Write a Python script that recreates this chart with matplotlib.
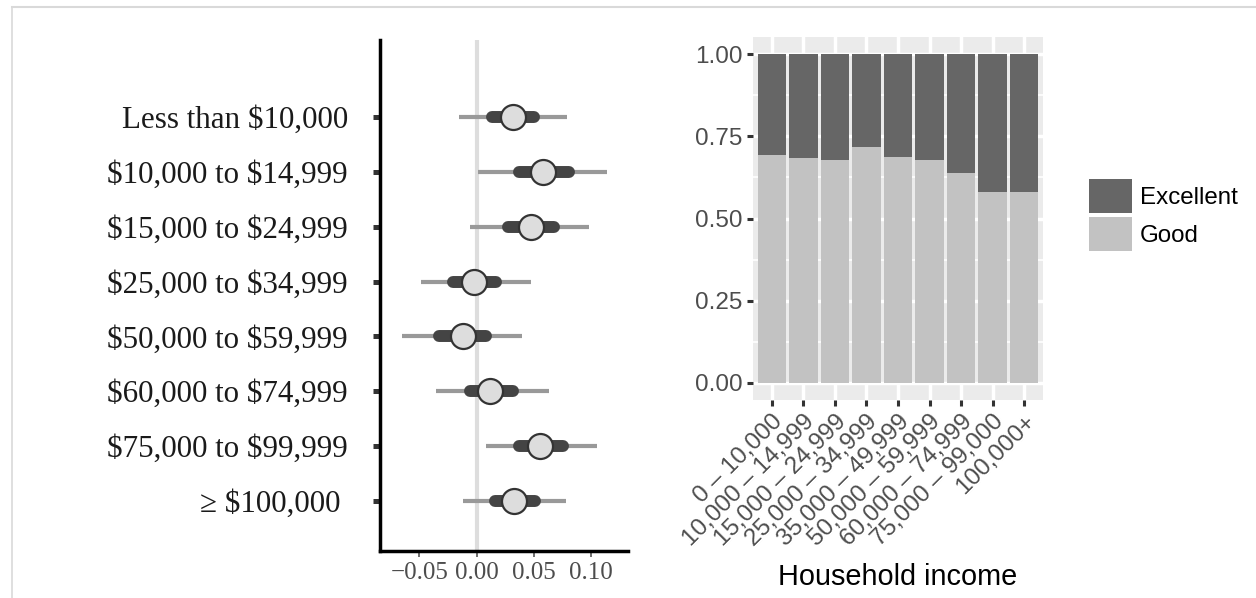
import numpy as np
import matplotlib.pyplot as plt
from matplotlib.lines import Line2D

# left panel: estimates with 50% / 95% style intervals
income_groups = ["Less than \\$10,000", "\\$10,000 to \\$14,999", "\\$15,000 to \\$24,999",
                 "\\$25,000 to \\$34,999", "\\$50,000 to \\$59,999", "\\$60,000 to \\$74,999",
                 "\\$75,000 to \\$99,999", "\u2265 \\$100,000 "]
estimate = [0.0315, 0.0582, 0.0472, -0.0021, -0.0117, 0.0116, 0.0556, 0.0329]
inner_lo = [0.0131, 0.0372, 0.0271, -0.0207, -0.0329, -0.0061, 0.0370, 0.0158]
inner_hi = [0.0503, 0.0803, 0.0676, 0.0171, 0.0081, 0.0322, 0.0759, 0.0506]
outer_lo = [-0.0152, 0.0009, -0.0059, -0.0490, -0.0656, -0.0358, 0.0079, -0.0120]
outer_hi = [0.0792, 0.1142, 0.0982, 0.0477, 0.0393, 0.0635, 0.1054, 0.0778]
x_ticks = [-0.05, 0.0, 0.05, 0.10]
x_ticklabels = ["\u22120.05", "0.00", "0.05", "0.10"]

# right panel: share of Good / Excellent by household income
brackets = ["0 \u2013 10,000", "10,000 \u2013 14,999", "15,000 \u2013 24,999",
            "25,000 \u2013 34,999", "35,000 \u2013 49,999", "50,000 \u2013 59,999",
            "60,000 \u2013 74,999", "75,000 \u2013 99,000", "100,000+"]
good = [0.692, 0.684, 0.677, 0.716, 0.687, 0.678, 0.639, 0.580, 0.580]
excellent = [1 - g for g in good]

W, H = 1256, 598
fig = plt.figure(figsize=(W / 100, H / 100), dpi=100)
serif = ["Liberation Serif", "DejaVu Serif"]
sans = ["Liberation Sans", "DejaVu Sans"]

# ---- left panel
ax1 = fig.add_axes([380 / W, 1 - 550.7 / H, 248 / W, 510.7 / H])
ypos = np.arange(len(income_groups))[::-1] + 1
ax1.axvline(0, color="#dddddd", lw=3, zorder=0)
ax1.hlines(ypos, outer_lo, outer_hi, color="#999999", lw=3, zorder=1)
for y, lo, hi in zip(ypos, inner_lo, inner_hi):
    ax1.plot([lo, hi], [y, y], color="#444444", lw=8.6, solid_capstyle="round", zorder=2)
ax1.plot(estimate, ypos, "o", ms=18, mfc="#dddddd", mec="#333333", mew=1.6, zorder=3)

ax1.set_xlim(-0.0845, 0.1323)
ax1.set_ylim(0.09, 9.41)
ax1.set_yticks(ypos)
ax1.set_yticklabels(income_groups, family=serif, fontsize=22.3, color="#1a1a1a")
ax1.set_xticks(x_ticks)
ax1.set_xticklabels(x_ticklabels, family=serif, fontsize=18, color="#4d4d4d")
ax1.tick_params(axis="y", length=5, width=3.6, color="#333333", pad=18)
ax1.tick_params(axis="x", length=4, width=1.2, color="#555555", pad=4)
for s in ["top", "right"]:
    ax1.spines[s].set_visible(False)
for s in ["left", "bottom"]:
    ax1.spines[s].set_linewidth(2.5)
    ax1.spines[s].set_color("black")

# ---- right panel
ax2 = fig.add_axes([753 / W, 1 - 400 / H, 290 / W, 363 / H])
ax2.set_facecolor("#ebebeb")
pos = np.arange(len(brackets)) + 1
ax2.bar(pos, good, width=0.9, color="#c2c2c2", label="Good", zorder=3)
ax2.bar(pos, excellent, bottom=good, width=0.9, color="#666666", label="Excellent", zorder=3)
ax2.set_xlim(0.4, 9.6)
ax2.set_ylim(-0.052, 1.052)
ax2.set_yticks([0, 0.25, 0.5, 0.75, 1.0])
ax2.set_yticklabels(["0.00", "0.25", "0.50", "0.75", "1.00"])
ax2.set_yticks([0.125, 0.375, 0.625, 0.875], minor=True)
ax2.set_xticks(pos)
ax2.set_xticklabels(brackets, rotation=45, ha="right", va="top", rotation_mode="anchor")
ax2.grid(which="major", color="white", lw=2.5, zorder=0)
ax2.grid(which="minor", axis="y", color="white", lw=1.2, zorder=0)
ax2.set_axisbelow(True)
for s in ax2.spines.values():
    s.set_visible(False)
ax2.tick_params(which="major", length=4.5, width=2.2, color="#333333",
                labelsize=17.5, labelcolor="#4d4d4d", pad=3)
ax2.tick_params(which="minor", length=0)
for lab in ax2.get_xticklabels() + ax2.get_yticklabels():
    lab.set_family(sans)
ax2.set_xlabel("Household income", fontsize=20.8, family=sans)
ax2.xaxis.set_label_coords(0.5, -177 / 363)
ax2.xaxis.label.set_va("center")

handles, labels = ax2.get_legend_handles_labels()
fig.legend(handles[::-1], labels[::-1], loc="upper left",
           bbox_to_anchor=(1089 / W, 1 - 179 / H), frameon=False,
           borderpad=0, borderaxespad=0, handlelength=1.78, handleheight=1.78,
           labelspacing=0.17, handletextpad=0.33,
           prop={"family": sans, "size": 17.4})

# thin frame at top and left edge
fig.add_artist(Line2D([12 / W, 1], [1 - 6.5 / H, 1 - 6.5 / H], color="#d9d9d9", lw=1.5))
fig.add_artist(Line2D([12 / W, 12 / W], [0, 1 - 6.5 / H], color="#d9d9d9", lw=1.2))

fig.savefig("out.png", dpi=100)
